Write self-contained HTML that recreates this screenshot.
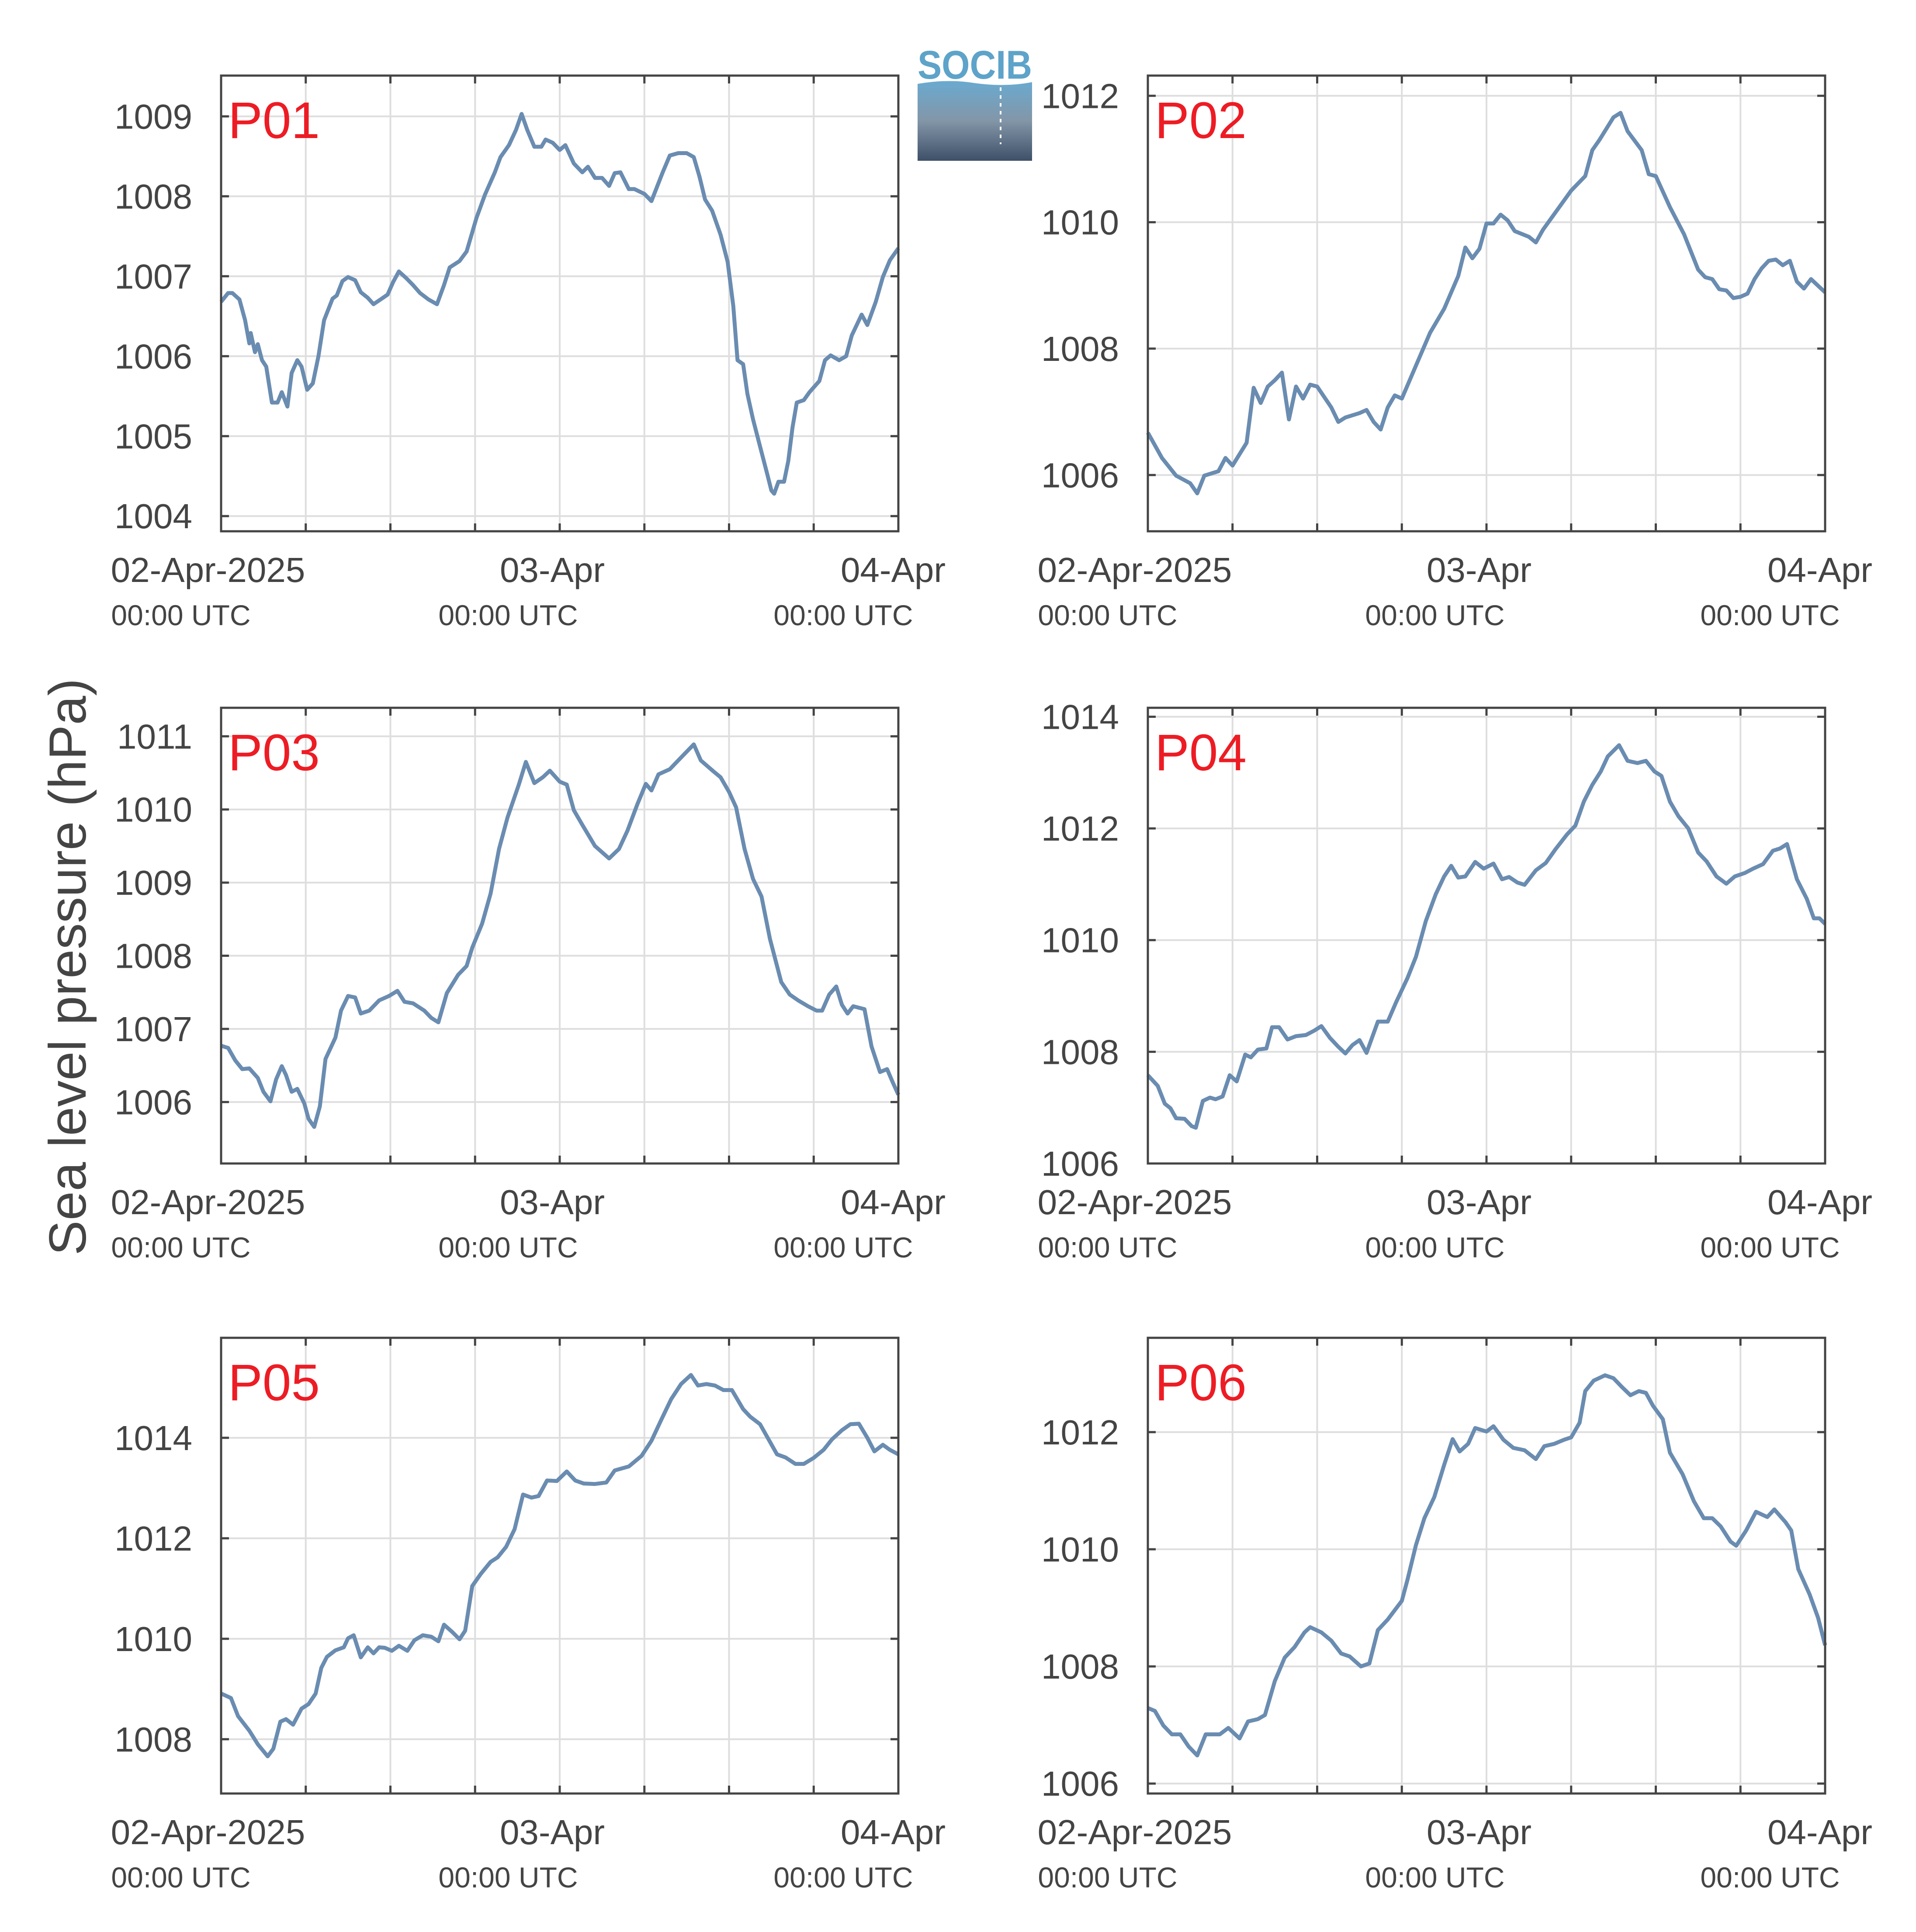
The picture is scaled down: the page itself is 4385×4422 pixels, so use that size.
<!DOCTYPE html>
<html><head><meta charset="utf-8"><title>Sea level pressure</title>
<style>html,body{margin:0;padding:0;background:#fff}svg{display:block}</style></head>
<body>
<svg id="chart" xmlns="http://www.w3.org/2000/svg" width="4385" height="4422" viewBox="0 0 4385 4422" font-family="'Liberation Sans', sans-serif">
<rect width="4385" height="4422" fill="#fff"/>
<text transform="translate(196,2213) rotate(-90)" text-anchor="middle" font-size="120" fill="#444">Sea level pressure (hPa)</text>
<g>
<defs><linearGradient id="lg" x1="0" y1="0" x2="0" y2="1"><stop offset="0" stop-color="#6aaad0"/><stop offset="0.5" stop-color="#8396a8"/><stop offset="1" stop-color="#3e5068"/></linearGradient></defs>
<text x="2100" y="180" font-size="92" font-weight="bold" fill="#5ea3c9" textLength="262" lengthAdjust="spacingAndGlyphs">SOCIB</text>
<path d="M2100 192 Q2170 180 2230 190 Q2300 200 2362 188 L2362 368 L2100 368 Z" fill="url(#lg)"/>
<line x1="2290" y1="200" x2="2290" y2="330" stroke="#fff" stroke-width="4" stroke-dasharray="8 10"/>
</g>
<g id="panels"></g>
</svg>
<script>
const p01Hours=[0,0.5,0.8,1.3,1.7,2,2.1,2.4,2.6,2.9,3.2,3.6,4,4.3,4.7,5,5.4,5.7,6.1,6.5,6.9,7.3,7.9,8.2,8.6,9,9.5,9.9,10.4,10.8,11.3,11.8,12.2,12.6,13.1,13.6,14.1,14.7,15.3,15.8,16.2,16.9,17.4,18.1,18.7,19.4,19.8,20.4,20.9,21.3,21.7,22.2,22.7,23,23.5,24,24.4,25,25.6,26,26.5,27,27.5,27.9,28.3,28.9,29.3,30,30.5,30.9,31.3,31.8,32.4,33,33.5,33.9,34.3,34.8,35.4,35.9,36.3,36.6,37,37.3,37.7,38.2,38.7,39,39.2,39.5,39.9,40.2,40.5,40.8,41.3,41.7,42.4,42.8,43.2,43.8,44.3,44.7,45.4,45.8,46.4,46.9,47.4,48];
const p01Vals=[1006.68,1006.79,1006.79,1006.71,1006.45,1006.16,1006.29,1006.05,1006.15,1005.95,1005.87,1005.42,1005.42,1005.55,1005.37,1005.79,1005.95,1005.87,1005.58,1005.66,1006.0,1006.45,1006.72,1006.76,1006.94,1006.99,1006.95,1006.8,1006.73,1006.65,1006.71,1006.77,1006.93,1007.06,1006.98,1006.89,1006.79,1006.71,1006.65,1006.89,1007.11,1007.19,1007.31,1007.73,1008.02,1008.3,1008.49,1008.64,1008.83,1009.03,1008.83,1008.62,1008.62,1008.71,1008.67,1008.58,1008.64,1008.41,1008.3,1008.37,1008.23,1008.23,1008.13,1008.29,1008.3,1008.09,1008.09,1008.03,1007.94,1008.12,1008.3,1008.51,1008.54,1008.54,1008.49,1008.25,1007.96,1007.82,1007.52,1007.18,1006.63,1005.95,1005.9,1005.53,1005.21,1004.87,1004.53,1004.32,1004.28,1004.43,1004.43,1004.69,1005.11,1005.42,1005.45,1005.55,1005.69,1005.95,1006.01,1005.95,1006.0,1006.26,1006.52,1006.39,1006.68,1006.99,1007.2,1007.35];

const p02Hours=[0,1,2,3,3.5,4,5,5.5,6,7,7.5,8,8.5,9,9.5,10,10.5,11,11.5,12,13,13.5,14,15,15.5,16,16.5,17,17.5,18,19,20,21,22,22.5,23,23.5,24,24.5,25,25.5,26,27,27.5,28,29,30,31,31.5,32,33,33.5,34,35,35.5,36,37,38,39,39.5,40,40.5,41,41.5,42,42.5,43,43.5,44,44.5,45,45.5,46,46.5,47,48];
const p02Vals=[1006.67,1006.27,1005.99,1005.87,1005.71,1005.99,1006.06,1006.27,1006.15,1006.51,1007.38,1007.14,1007.4,1007.5,1007.62,1006.88,1007.4,1007.21,1007.43,1007.4,1007.07,1006.84,1006.91,1006.98,1007.03,1006.84,1006.72,1007.07,1007.26,1007.21,1007.73,1008.25,1008.63,1009.15,1009.6,1009.43,1009.58,1009.98,1009.98,1010.12,1010.03,1009.86,1009.77,1009.68,1009.88,1010.19,1010.5,1010.73,1011.14,1011.3,1011.66,1011.73,1011.44,1011.14,1010.76,1010.73,1010.24,1009.81,1009.25,1009.13,1009.1,1008.94,1008.92,1008.8,1008.82,1008.87,1009.1,1009.27,1009.39,1009.41,1009.32,1009.39,1009.06,1008.95,1009.1,1008.89];

const p03Hours=[0,0.5,1,1.5,2,2.6,3,3.5,3.9,4.3,4.6,5,5.4,5.9,6.2,6.6,7,7.4,8.1,8.5,9,9.5,9.9,10.5,11.2,11.9,12.5,13,13.6,14.4,14.9,15.4,16,16.8,17.4,17.8,18.5,19.1,19.7,20.3,21.1,21.6,22.2,22.8,23.3,24,24.5,25,25.6,26.5,27.5,28.2,28.8,29.5,30.1,30.5,31,31.8,32.6,33.5,34,34.9,35.4,36,36.5,37.1,37.7,38.3,38.9,39.7,40.3,40.9,41.6,42.2,42.6,43.1,43.6,44,44.4,44.8,45.6,46.1,46.7,47.2,47.6,48];
const p03Vals=[1006.77,1006.74,1006.57,1006.45,1006.46,1006.33,1006.14,1006.01,1006.31,1006.49,1006.37,1006.14,1006.18,1005.98,1005.77,1005.66,1005.94,1006.59,1006.88,1007.25,1007.45,1007.43,1007.21,1007.25,1007.39,1007.45,1007.52,1007.37,1007.35,1007.25,1007.15,1007.09,1007.49,1007.74,1007.86,1008.11,1008.44,1008.85,1009.46,1009.89,1010.34,1010.65,1010.36,1010.44,1010.53,1010.38,1010.34,1009.99,1009.79,1009.5,1009.33,1009.46,1009.71,1010.07,1010.35,1010.26,1010.48,1010.55,1010.71,1010.89,1010.67,1010.52,1010.44,1010.24,1010.03,1009.46,1009.05,1008.81,1008.23,1007.64,1007.47,1007.39,1007.31,1007.25,1007.25,1007.47,1007.58,1007.33,1007.21,1007.31,1007.27,1006.76,1006.41,1006.45,1006.27,1006.1];

const p04Hours=[0,0.7,1.2,1.6,2,2.6,3.1,3.4,3.9,4.4,4.8,5.3,5.8,6.3,6.9,7.3,7.8,8.4,8.8,9.3,9.9,10.5,11.2,11.8,12.3,12.9,13.5,14,14.5,15,15.5,16.3,17,17.6,18.4,19,19.7,20.4,21,21.5,22,22.5,23.2,23.8,24.5,25.1,25.6,26.2,26.7,27.5,28.2,28.9,29.7,30.3,30.9,31.5,32.1,32.6,33.4,34,34.7,35.3,35.9,36.4,37,37.6,38.3,39,39.6,40.3,41,41.6,42.3,42.9,43.6,44.3,44.8,45.3,46,46.7,47.2,47.6,48];
const p04Vals=[1007.58,1007.39,1007.07,1006.99,1006.81,1006.8,1006.67,1006.64,1007.12,1007.18,1007.15,1007.2,1007.58,1007.47,1007.95,1007.9,1008.04,1008.06,1008.44,1008.44,1008.22,1008.28,1008.3,1008.38,1008.46,1008.25,1008.09,1007.97,1008.12,1008.21,1007.98,1008.54,1008.54,1008.89,1009.32,1009.7,1010.34,1010.82,1011.14,1011.33,1011.12,1011.14,1011.4,1011.28,1011.37,1011.09,1011.13,1011.03,1010.99,1011.25,1011.38,1011.63,1011.89,1012.05,1012.48,1012.78,1013.02,1013.29,1013.49,1013.21,1013.17,1013.21,1013.02,1012.94,1012.48,1012.22,1012.0,1011.57,1011.41,1011.14,1011.01,1011.14,1011.2,1011.28,1011.36,1011.6,1011.64,1011.72,1011.09,1010.74,1010.39,1010.39,1010.29];

const p05Hours=[0,0.7,1.2,2,2.6,3.3,3.7,4.2,4.6,5.1,5.7,6.2,6.7,7.1,7.5,8.1,8.7,9,9.4,9.9,10.4,10.8,11.2,11.6,12.1,12.6,13.2,13.7,14.3,14.9,15.4,15.8,16.4,16.9,17.3,17.8,18.4,19.1,19.6,20.2,20.8,21.4,22,22.5,23.1,23.8,24.5,25.1,25.7,26.5,27.3,27.9,28.9,29.8,30.5,31.2,31.9,32.6,33.3,33.8,34.4,35,35.6,36.2,37,37.5,38.2,38.8,39.4,40,40.7,41.3,42,42.7,43.3,44,44.6,45.2,45.8,46.3,46.9,47.4,48];
const p05Vals=[1008.91,1008.82,1008.46,1008.17,1007.9,1007.66,1007.81,1008.35,1008.4,1008.29,1008.61,1008.7,1008.91,1009.42,1009.64,1009.77,1009.83,1010.01,1010.07,1009.63,1009.83,1009.71,1009.83,1009.82,1009.76,1009.86,1009.76,1009.97,1010.07,1010.04,1009.95,1010.28,1010.13,1009.99,1010.16,1011.05,1011.29,1011.53,1011.62,1011.83,1012.18,1012.87,1012.81,1012.84,1013.15,1013.14,1013.33,1013.15,1013.09,1013.08,1013.11,1013.35,1013.43,1013.64,1013.94,1014.36,1014.77,1015.07,1015.25,1015.04,1015.07,1015.04,1014.95,1014.95,1014.57,1014.42,1014.27,1013.97,1013.67,1013.61,1013.48,1013.48,1013.6,1013.76,1013.97,1014.15,1014.27,1014.28,1014.0,1013.73,1013.86,1013.76,1013.67];

const p06Hours=[0,0.5,1.1,1.7,2.3,2.9,3.5,4.1,4.7,5.1,5.7,6.5,7.1,7.8,8.3,9,9.7,10.4,11.1,11.5,12.3,13,13.7,14.3,15.1,15.7,16.3,17,18,18.4,19,19.6,20.3,21,21.6,22.1,22.7,23.2,24,24.5,25.2,25.9,26.7,27.5,28.1,28.8,29.5,30,30.6,31,31.6,32.4,33,33.6,34.2,34.8,35.3,35.8,36.5,37,37.9,38.7,39.4,40,40.6,41.3,41.7,42.4,43.1,43.9,44.4,45.2,45.6,46.1,46.9,47.5,48];
const p06Vals=[1007.29,1007.24,1006.99,1006.84,1006.84,1006.63,1006.48,1006.84,1006.84,1006.84,1006.95,1006.77,1007.06,1007.1,1007.17,1007.75,1008.15,1008.33,1008.58,1008.67,1008.58,1008.44,1008.22,1008.17,1008.0,1008.05,1008.62,1008.8,1009.12,1009.48,1010.07,1010.53,1010.89,1011.44,1011.88,1011.67,1011.8,1012.07,1012.01,1012.1,1011.87,1011.73,1011.69,1011.54,1011.76,1011.8,1011.87,1011.91,1012.16,1012.7,1012.88,1012.97,1012.92,1012.77,1012.63,1012.7,1012.67,1012.45,1012.22,1011.65,1011.28,1010.82,1010.53,1010.53,1010.39,1010.13,1010.06,1010.32,1010.64,1010.55,1010.68,1010.46,1010.32,1009.66,1009.23,1008.83,1008.36];

const panelNames=['P01','P02','P03','P04','P05','P06'];
const yMins=[1003.81,1005.11,1005.16,1006.0,1006.92,1005.83];
const yMaxs=[1009.51,1012.32,1011.39,1014.16,1015.99,1013.61];
const yTicks=[[1004,1005,1006,1007,1008,1009],[1006,1008,1010,1012],[1006,1007,1008,1009,1010,1011],[1006,1008,1010,1012,1014],[1008,1010,1012,1014],[1006,1008,1010,1012]];
const xTickHours=[0,6,12,18,24,30,36,42,48];
const xLabelHours=[0,24,48];
const xDateLabels=['02-Apr-2025','03-Apr','04-Apr'];
const xTimeLabels=['00:00 UTC','00:00 UTC','00:00 UTC'];
const allHours=[p01Hours,p02Hours,p03Hours,p04Hours,p05Hours,p06Hours];
const allVals=[p01Vals,p02Vals,p03Vals,p04Vals,p05Vals,p06Vals];

const NS='http://www.w3.org/2000/svg';
const colLeft=[506,2627], rowTop=[173,1620,3062], PW=1550, PH=1043;
const dateOff=[-30,-17,-12], timeOff=[-92,-118,-126];
const root=document.getElementById('panels');
function mk(tag,attrs,parent){const e=document.createElementNS(NS,tag);for(const k in attrs)e.setAttribute(k,attrs[k]);parent.appendChild(e);return e;}

for(let i=0;i<6;i++){
  const L=colLeft[i%2], T=rowTop[Math.floor(i/2)], R=L+PW, B=T+PH;
  const xs=h=>L+h/48*PW;
  const ys=v=>B-(v-yMins[i])/(yMaxs[i]-yMins[i])*PH;
  const g=mk('g',{},root);
  
  
  xTickHours.slice(1,-1).forEach(h=>{
    const l=mk('line',{x1:xs(h),x2:xs(h),y1:T,y2:B,stroke:'#dedede','stroke-width':4},g);
    
    
  });
  yTicks[i].forEach(v=>{
    const l=mk('line',{x1:L,x2:R,y1:ys(v),y2:ys(v),stroke:'#dedede','stroke-width':4},g);
    
    
  });
  const d=allHours[i].map((h,k)=>(k?'L':'M')+xs(h).toFixed(1)+' '+ys(allVals[i][k]).toFixed(1)).join(' ');
  const p=mk('path',{d:d,fill:'none',stroke:'#6a8cb1','stroke-width':9,'stroke-linejoin':'round'},g);
  
  
  const f=mk('rect',{x:L,y:T,width:PW,height:PH,fill:'none',stroke:'#444','stroke-width':5},g);
  
  
  xTickHours.slice(1,-1).forEach(h=>{
    mk('line',{x1:xs(h),x2:xs(h),y1:B,y2:B-18,stroke:'#444','stroke-width':5},g);
    mk('line',{x1:xs(h),x2:xs(h),y1:T,y2:T+18,stroke:'#444','stroke-width':5},g);
  });
  yTicks[i].forEach(v=>{
    mk('line',{x1:L,x2:L+18,y1:ys(v),y2:ys(v),stroke:'#444','stroke-width':5},g);
    mk('line',{x1:R,x2:R-18,y1:ys(v),y2:ys(v),stroke:'#444','stroke-width':5},g);
    const t=mk('text',{x:L-66,y:ys(v)+28,'text-anchor':'end','font-size':80,fill:'#444'},g);
    t.textContent=v;
    
    
  });
  xLabelHours.forEach((h,k)=>{
    const t=mk('text',{x:xs(h)+dateOff[k],y:B+116,'text-anchor':'middle','font-size':80,fill:'#444'},g);
    t.textContent=xDateLabels[k];
    
    
    const u=mk('text',{x:xs(h)+timeOff[k],y:B+215,'text-anchor':'middle','font-size':66,fill:'#444'},g);
    u.textContent=xTimeLabels[k];
    
    
  });
  const lab=mk('text',{x:L+16,y:T+143,'font-size':118,fill:'#ed1c24'},g);
  lab.textContent=panelNames[i];
  
  
}
</script>
</body></html>
